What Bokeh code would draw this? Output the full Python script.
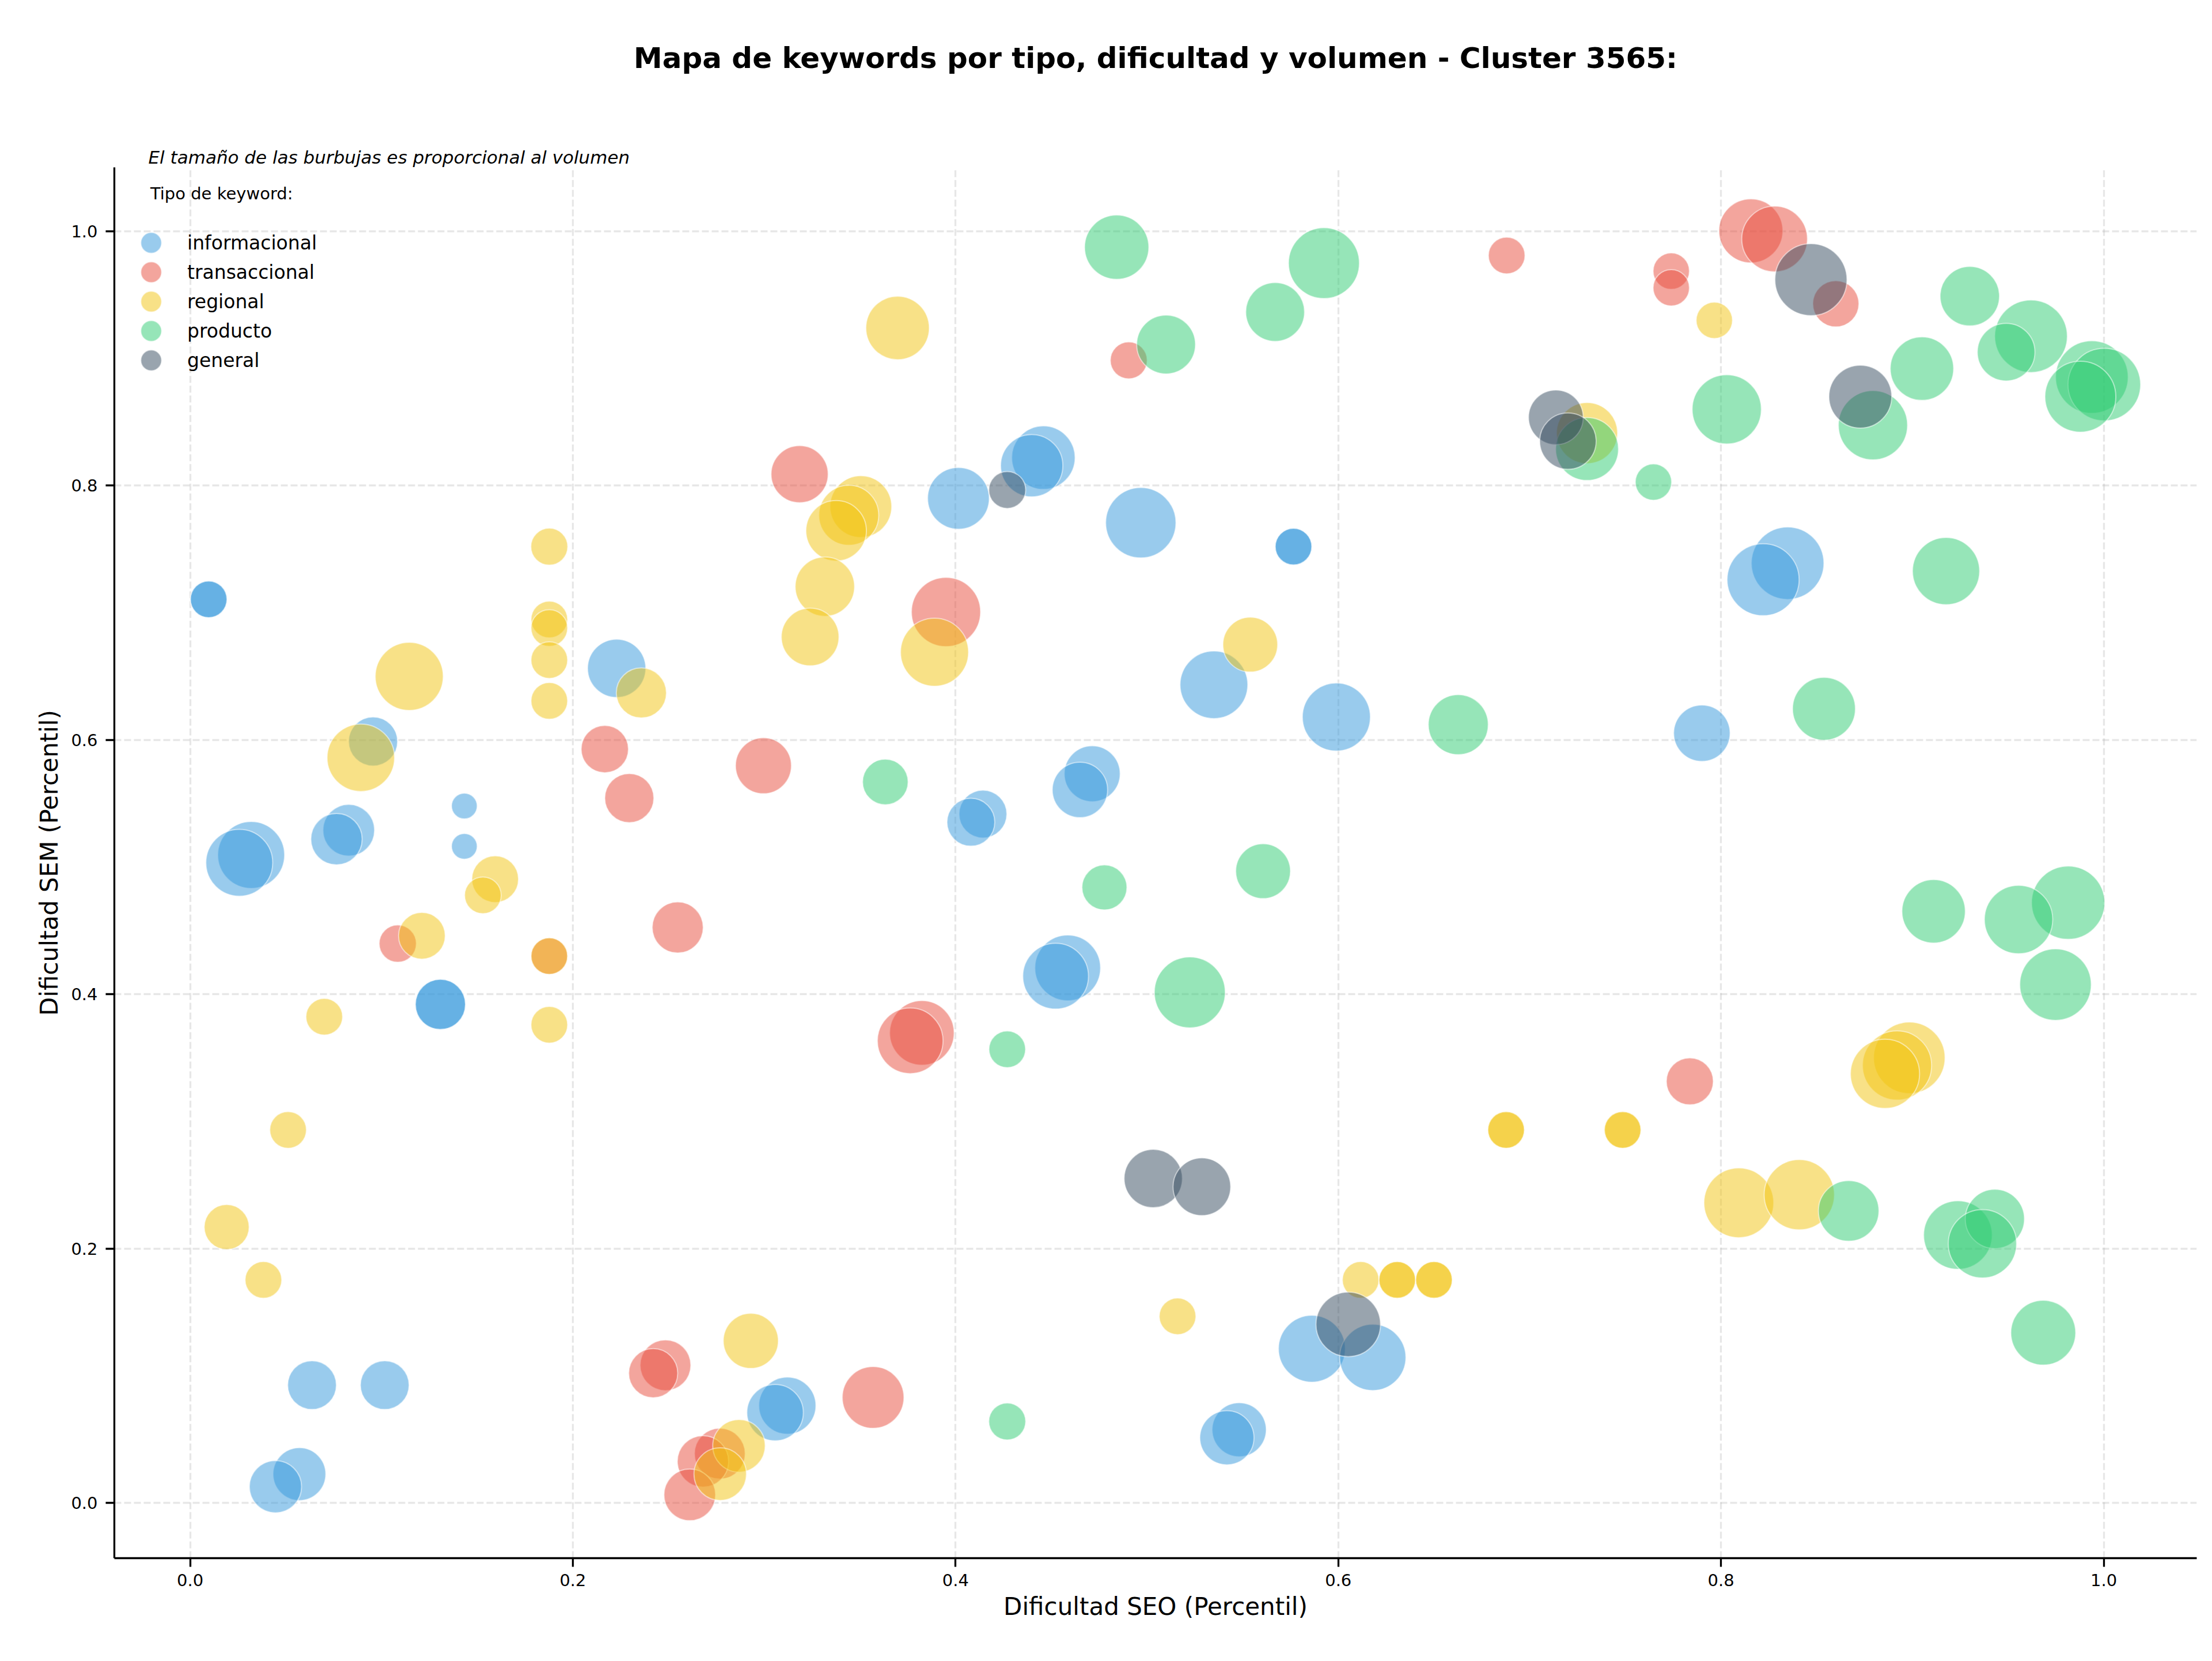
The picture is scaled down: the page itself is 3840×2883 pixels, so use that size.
import math
from bokeh.plotting import figure
from bokeh.models import (Range1d, FixedTicker, NumeralTickFormatter, Legend, LegendItem,
                          Label, Title, ColumnDataSource)
from bokeh.embed import file_html
from bokeh.resources import INLINE

FONT = "DejaVu Sans"

tipos = ["informacional", "transaccional", "regional", "producto", "general"]
colores = ["#3498db", "#e74c3c", "#f1c40f", "#2ecc71", "#34495e"]

# informacional
info_seo = [0.0097, 0.0097, 0.4459, 0.4398, 0.4015, 0.4968, 0.5766, 0.5766, 0.8348, 0.8220,
            0.2229, 0.0956, 0.1433, 0.1433, 0.0829, 0.0765, 0.0319, 0.0257, 0.1308, 0.1308,
            0.5350, 0.5990, 0.4714, 0.4650, 0.4143, 0.4080, 0.4586, 0.4523, 0.7900, 0.0637,
            0.1017, 0.0571, 0.0446, 0.3121, 0.3057, 0.5862, 0.6180, 0.5482, 0.5418]
info_sem = [0.7106, 0.7106, 0.8220, 0.8157, 0.7900, 0.7708, 0.7520, 0.7520, 0.7390, 0.7260,
            0.6563, 0.5988, 0.5480, 0.5163, 0.5290, 0.5220, 0.5095, 0.5034, 0.3920, 0.3920,
            0.6434, 0.6180, 0.5734, 0.5607, 0.5417, 0.5353, 0.4207, 0.4142, 0.6053, 0.0926,
            0.0926, 0.0226, 0.0127, 0.0765, 0.0710, 0.1212, 0.1144, 0.0575, 0.0512]
info_vol = [252, 252, 756, 729, 716, 930, 252, 252, 992, 977,
            638, 452, 124, 124, 501, 495, 841, 841, 473, 473,
            863, 870, 588, 576, 430, 430, 812, 812, 600, 446,
            446, 524, 512, 613, 600, 841, 827, 552, 552]

# transaccional
trans_seo = [0.3185, 0.6880, 0.4905, 0.7740, 0.7740, 0.8156, 0.8280, 0.8600, 0.3950, 0.2167,
             0.2295, 0.2996, 0.1085, 0.2548, 0.1877, 0.3824, 0.3763, 0.7837, 0.2484, 0.2420,
             0.2768, 0.2680, 0.2611, 0.3569]
trans_sem = [0.8090, 0.9810, 0.8985, 0.9687, 0.9556, 1.0004, 0.9940, 0.9430, 0.7006, 0.5928,
             0.5543, 0.5797, 0.4398, 0.4525, 0.4300, 0.3696, 0.3634, 0.3315, 0.1082, 0.1020,
             0.0387, 0.0326, 0.0063, 0.0829]
trans_vol = [613, 252, 256, 248, 248, 770, 812, 400, 900, 420,
             452, 588, 260, 490, 252, 784, 812, 415, 484, 452,
             484, 495, 501, 716]

# regional
reg_seo = [0.1877, 0.3697, 0.3505, 0.3442, 0.3376, 0.3317, 0.3890, 0.5540, 0.7965, 0.7300,
           0.1877, 0.1877, 0.1877, 0.1877, 0.2358, 0.1145, 0.3240, 0.0892, 0.1594, 0.1530,
           0.1211, 0.1877, 0.0701, 0.1877, 0.8984, 0.8920, 0.8857, 0.0512, 0.0191, 0.0383,
           0.2930, 0.2868, 0.2770, 0.6877, 0.6877, 0.7486, 0.7486, 0.6117, 0.6308, 0.6308,
           0.6500, 0.6500, 0.5160, 0.8093, 0.8409]
reg_sem = [0.7520, 0.9240, 0.7835, 0.7767, 0.7645, 0.7206, 0.6690, 0.6750, 0.9300, 0.8413,
           0.6947, 0.6880, 0.6628, 0.6307, 0.6370, 0.6500, 0.6810, 0.5860, 0.4905, 0.4778,
           0.4460, 0.4300, 0.3823, 0.3760, 0.3500, 0.3440, 0.3374, 0.2933, 0.2169, 0.1753,
           0.1274, 0.0448, 0.0226, 0.2933, 0.2933, 0.2933, 0.2933, 0.1753, 0.1753, 0.1753,
           0.1753, 0.1753, 0.1467, 0.2360, 0.2423]
reg_vol = [256, 756, 716, 676, 689, 663, 870, 564, 248, 702,
           252, 252, 252, 252, 473, 870, 625, 856, 410, 252,
           410, 252, 252, 252, 961, 900, 900, 252, 380, 252,
           570, 518, 518, 252, 252, 252, 252, 252, 252, 252,
           252, 252, 252, 915, 930]

# producto
prod_seo = [0.4842, 0.5925, 0.5670, 0.5100, 0.9300, 0.9620, 0.9490, 0.9050, 0.9938, 1.0003,
            0.9878, 0.8794, 0.8030, 0.7300, 0.7647, 0.9176, 0.6627, 0.3633, 0.4778, 0.5607,
            0.5224, 0.4270, 0.8538, 0.9111, 0.9814, 0.9555, 0.9748, 0.4270, 0.8667, 0.9238,
            0.9431, 0.9366, 0.9684]
prod_sem = [0.9875, 0.9750, 0.9366, 0.9110, 0.9490, 0.9175, 0.9050, 0.8920, 0.8854, 0.8795,
            0.8700, 0.8475, 0.8600, 0.8288, 0.8028, 0.7328, 0.6120, 0.5670, 0.4840, 0.4968,
            0.4015, 0.3567, 0.6245, 0.4652, 0.4720, 0.4588, 0.4076, 0.0640, 0.2296, 0.2106,
            0.2233, 0.2038, 0.1338]
prod_vol = [777, 946, 650, 650, 663, 992, 625, 756, 992, 992,
            946, 900, 900, 743, 248, 848, 676, 390, 380, 564,
            946, 252, 743, 756, 1008, 879, 961, 256, 689, 885,
            658, 878, 791]

# general
gen_seo = [0.4270, 0.8470, 0.8728, 0.7137, 0.7200, 0.5033, 0.5287, 0.6052]
gen_sem = [0.7966, 0.9620, 0.8700, 0.8537, 0.8350, 0.2551, 0.2486, 0.1404]
gen_vol = [256, 977, 743, 564, 600, 638, 625, 784]

series = [
    (info_seo, info_sem, info_vol),
    (trans_seo, trans_sem, trans_vol),
    (reg_seo, reg_sem, reg_vol),
    (prod_seo, prod_sem, prod_vol),
    (gen_seo, gen_sem, gen_vol),
]

p = figure(width=3840, height=2883, output_backend="svg", toolbar_location=None, title=None,
           x_range=Range1d(-0.0396, 1.0486), y_range=Range1d(-0.0435, 1.0503),
           min_border_left=198, min_border_right=27, min_border_bottom=179, min_border_top=289)
p.outline_line_color = None
p.background_fill_color = "white"
p.border_fill_color = "white"

ticks = [0.0, 0.2, 0.4, 0.6, 0.8, 1.0]
for ax in (p.xaxis[0], p.yaxis[0]):
    ax.ticker = FixedTicker(ticks=ticks)
    ax.formatter = NumeralTickFormatter(format="0.0")
    ax.major_label_text_font = FONT
    ax.major_label_text_font_size = "29px"
    ax.major_label_text_color = "black"
    ax.axis_line_width = 3.3
    ax.axis_line_color = "black"
    ax.major_tick_line_width = 3.3
    ax.major_tick_line_color = "black"
    ax.major_tick_in = 0
    ax.major_tick_out = 15
    ax.minor_tick_line_color = None
    ax.axis_label_text_font = FONT
    ax.axis_label_text_font_size = "42px"
    ax.axis_label_text_font_style = "normal"
    ax.axis_label_text_color = "black"
p.xaxis.axis_label = "Dificultad SEO (Percentil)"
p.yaxis.axis_label = "Dificultad SEM (Percentil)"
p.xaxis.major_label_standoff = 12
p.yaxis.major_label_standoff = 14
p.xaxis.axis_label_standoff = 8
p.yaxis.axis_label_standoff = 10

for g in (p.xgrid[0], p.ygrid[0]):
    g.ticker = FixedTicker(ticks=ticks)
    g.grid_line_color = "#b0b0b0"
    g.grid_line_alpha = 0.3
    g.grid_line_width = 3.3
    g.grid_line_dash = "12 5"

renderers = []
for tipo, color, (xs, ys, vs) in zip(tipos, colores, series):
    src = ColumnDataSource(dict(x=xs, y=ys, vol=vs, size=[4.0 * math.sqrt(v) for v in vs]))
    r = p.scatter("x", "y", size="size", source=src, marker="circle",
                  fill_color=color, fill_alpha=0.5,
                  line_color="white", line_alpha=0.5, line_width=2)
    renderers.append(r)

# one legend box per row so that rows can be closer than the glyph box height
row_step = 51
first_bottom = 2238
for i, (tipo, r) in enumerate(zip(tipos, renderers)):
    lg = Legend(items=[LegendItem(label=tipo, renderers=[r])],
                location=(19, first_bottom - i * row_step),
                glyph_width=90, glyph_height=90, spacing=0, label_standoff=18,
                padding=0, margin=0, border_line_color=None, background_fill_alpha=0,
                label_text_font=FONT, label_text_font_size="33px", label_text_color="black")
    p.add_layout(lg)

p.add_layout(Label(x=-0.0208, y=1.0299, text="Tipo de keyword:", text_font=FONT,
                   text_font_size="29px", text_baseline="middle", text_align="left",
                   text_color="black"))

note = Title(text="El tamaño de las burbujas es proporcional al volumen", align="left",
             offset=59, text_font=FONT, text_font_size="31px", text_font_style="italic",
             text_color="black", standoff=0)
p.add_layout(note, "above")
spacer = Title(text=" ", text_font=FONT, text_font_size="2px", standoff=50)
p.add_layout(spacer, "above")
main = Title(text="Mapa de keywords por tipo, dificultad y volumen - Cluster 3565:",
             align="center", text_font=FONT, text_font_size="50px", text_font_style="bold",
             text_color="black", standoff=138)
p.add_layout(main, "above")

open("out.html", "w").write(file_html(p, INLINE))
